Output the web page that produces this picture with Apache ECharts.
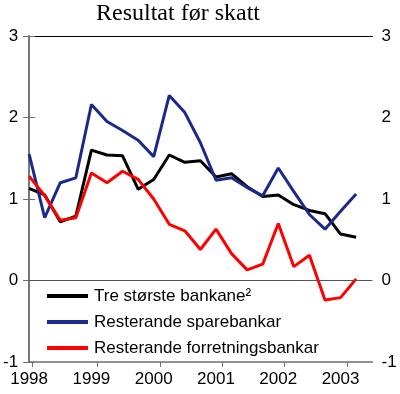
<!DOCTYPE html>
<html>
<head>
<meta charset="utf-8">
<script src="https://cdn.jsdelivr.net/npm/echarts@6/dist/echarts.min.js"></script>
<style>
html,body{margin:0;padding:0;background:#fff;}
#c{width:400px;height:394px;}
</style>
</head>
<body>
<div id="c"></div>
<script>
// Quarterly observations, 1998Q1 .. 2003Q2
var quarters = ['1998Q1','1998Q2','1998Q3','1998Q4','1999Q1','1999Q2','1999Q3','1999Q4',
  '2000Q1','2000Q2','2000Q3','2000Q4','2001Q1','2001Q2','2001Q3','2001Q4',
  '2002Q1','2002Q2','2002Q3','2002Q4','2003Q1','2003Q2'];
var treStorste = [1.13, 1.05, 0.72, 0.79, 1.60, 1.54, 1.53, 1.12, 1.24, 1.54, 1.45, 1.47,
  1.27, 1.31, 1.15, 1.03, 1.05, 0.93, 0.86, 0.82, 0.57, 0.53];
var sparebankar = [1.55, 0.77, 1.20, 1.26, 2.16, 1.95, 1.84, 1.72, 1.52, 2.27, 2.06, 1.69,
  1.23, 1.26, 1.14, 1.04, 1.38, 1.09, 0.81, 0.63, 0.85, 1.06];
var forretningsbankar = [1.28, 1.04, 0.74, 0.77, 1.32, 1.20, 1.34, 1.24, 1.00, 0.69, 0.61, 0.38,
  0.63, 0.33, 0.13, 0.20, 0.70, 0.17, 0.31, -0.24, -0.21, 0.02];
var yearLabels = ['1998','1999','2000','2001','2002','2003'];
var yTicks = [-1, 0, 1, 2, 3];
var seriesNames = ['Tre største bankane²', 'Resterande sparebankar', 'Resterande forretningsbankar'];

function pairs(arr){ return arr.map(function(v,i){ return [i, v]; }); }
var labelPos = yearLabels.map(function(y,k){ return k*4; });
var tickPos = yearLabels.map(function(y,k){ return k === 0 ? 0.2 : k*4 + 0.4; });

var chart = echarts.init(document.getElementById('c'), null, {renderer:'canvas'});
var axisCol = '#6e6e6e';
var lblStyle = {fontFamily:'Liberation Sans, Arial, sans-serif', fontSize:17, color:'#000'};
var yAxisBase = function(pos, margin){
  return {
    type:'value', position:pos, min:yTicks[0], max:yTicks[yTicks.length-1], interval:1,
    axisLine:{show:true, lineStyle:{color:axisCol, width:1.5}},
    axisTick:{show:true, inside:false, length:6, lineStyle:{color:axisCol, width:1}},
    axisLabel:Object.assign({margin:margin}, lblStyle),
    splitLine:{show:false}
  };
};
chart.setOption({
  animation:false,
  backgroundColor:'#fff',
  title:{
    text:'Resultat før skatt', left:178, top:2, textAlign:'center', padding:0,
    textStyle:{fontFamily:'Liberation Serif, Times New Roman, serif', fontSize:24, fontWeight:'normal', color:'#000'}
  },
  grid:{left:27, right:27.5, top:36, height:326, containLabel:false},
  legend:{
    orient:'vertical', left:47, top:286, itemGap:6, itemWidth:41, itemHeight:4,
    icon:'rect', padding:0,
    textStyle:{fontFamily:'Liberation Sans, Arial, sans-serif', fontSize:17, color:'#000', lineHeight:20, padding:[0,0,0,1]},
    data:seriesNames
  },
  xAxis:[{
    type:'value', position:'bottom', min:0, max:22.05,
    axisLine:{show:true, onZero:false, lineStyle:{color:axisCol, width:1.5}},
    axisTick:{show:true, inside:false, length:5, customValues:tickPos, lineStyle:{color:axisCol, width:1}},
    axisLabel:Object.assign({margin:9, customValues:labelPos, formatter:function(v){ return yearLabels[Math.round(v/4)]; }}, lblStyle),
    splitLine:{show:false}
  },{
    type:'value', position:'top', min:0, max:22.05,
    axisLine:{show:true, onZero:false, lineStyle:{color:'#000', width:1}},
    axisTick:{show:false}, axisLabel:{show:false}, splitLine:{show:false}
  }],
  yAxis:[yAxisBase('left', 11), yAxisBase('right', 9)],
  series:[
    {name:seriesNames[0], type:'line', data:pairs(treStorste), showSymbol:false,
     lineStyle:{color:'#000', width:3}, itemStyle:{color:'#000'},
     markLine:{silent:true, symbol:['none','none'], label:{show:false},
       lineStyle:{color:'#555', width:1, type:'solid'}, data:[{yAxis:0}]}},
    {name:seriesNames[1], type:'line', data:pairs(sparebankar), showSymbol:false,
     lineStyle:{color:'#1B2A88', width:3}, itemStyle:{color:'#1B2A88'}},
    {name:seriesNames[2], type:'line', data:pairs(forretningsbankar), showSymbol:false,
     lineStyle:{color:'#FF0000', width:3}, itemStyle:{color:'#FF0000'}}
  ]
});
</script>
</body>
</html>
